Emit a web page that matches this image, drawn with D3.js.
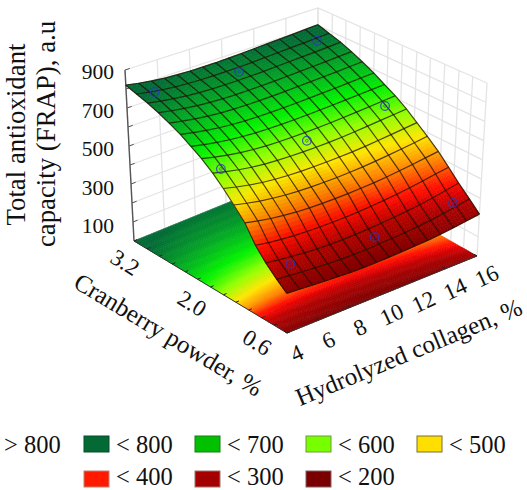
<!DOCTYPE html>
<html>
<head>
<meta charset="utf-8">
<script src="https://cdn.jsdelivr.net/npm/d3@7"></script>
<style>
body { margin: 0; background: #fff; }
text { font-family: "Liberation Serif", serif; fill: #111; }
</style>
</head>
<body>
<div id="chart-area"></div>
<script>
// values
var xTicks = [4, 6, 8, 10, 12, 14, 16];
var yTicks = [3.2, 2.0, 0.6];
var zTicks = [100, 300, 500, 700, 900];
var zLines = [0, 100, 200, 300, 400, 500, 600, 700, 800, 900];
var yLines = [3.2, 2.98, 2.77, 2.55, 2.33, 2.12, 1.9, 1.68, 1.47, 1.25, 1.03, 0.82, 0.6];

var gridX = [4, 4.8, 5.6, 6.4, 7.2, 8, 8.8, 9.6, 10.4, 11.2, 12, 12.8, 13.6, 14.4, 15.2, 16];
var gridY = [3.2, 3.03, 2.85, 2.68, 2.51, 2.33, 2.16, 1.99, 1.81, 1.64, 1.47, 1.29, 1.12, 0.95, 0.77, 0.6];
var surfaceZ = [
    [820, 808, 798, 790, 786, 783, 782, 782, 784, 786, 789, 792, 795, 798, 802, 805],
    [800, 788, 778, 771, 766, 763, 762, 762, 763, 765, 768, 771, 774, 777, 781, 785],
    [780, 769, 759, 751, 746, 743, 742, 742, 743, 745, 748, 751, 754, 757, 761, 765],
    [757, 745, 735, 727, 721, 718, 717, 717, 718, 720, 723, 726, 729, 732, 736, 740],
    [730, 718, 707, 699, 693, 690, 689, 689, 690, 692, 695, 698, 701, 704, 708, 712],
    [700, 687, 676, 667, 661, 657, 656, 656, 657, 659, 662, 665, 668, 672, 676, 680],
    [665, 652, 641, 632, 626, 622, 620, 620, 621, 623, 626, 629, 633, 637, 641, 645],
    [630, 615, 603, 593, 586, 582, 580, 580, 581, 583, 586, 590, 595, 600, 606, 612],
    [585, 570, 557, 547, 540, 536, 534, 533, 534, 536, 539, 544, 550, 557, 563, 570],
    [535, 520, 507, 497, 490, 486, 484, 484, 485, 487, 490, 495, 502, 509, 517, 525],
    [480, 466, 454, 445, 438, 434, 432, 432, 433, 436, 440, 446, 453, 461, 470, 480],
    [420, 407, 396, 388, 382, 379, 378, 378, 380, 383, 387, 393, 401, 410, 420, 430],
    [338, 328, 320, 315, 312, 311, 311, 312, 315, 319, 325, 332, 341, 352, 364, 375],
    [280, 271, 264, 258, 254, 252, 252, 254, 257, 261, 267, 274, 282, 293, 306, 320],
    [230, 224, 219, 214, 210, 208, 207, 208, 211, 214, 219, 225, 232, 242, 255, 268],
    [190, 186, 182, 178, 175, 172, 171, 172, 174, 177, 180, 184, 190, 198, 208, 218]
];

// measured points on the surface
var pointX = [4.9, 9.8, 14.9, 5.1, 10.1, 15.1, 5.6, 10.3, 15.3];
var pointY = [2.97, 2.88, 2.94, 1.97, 1.88, 1.92, 0.97, 0.82, 0.85];
var pointZ = [795, 778, 790, 550, 565, 595, 225, 240, 255];

var legendLabels = ["< 800", "< 700", "< 600", "< 500", "< 400", "< 300", "< 200"];
var legendColors = ["#046a35", "#00c000", "#77ff00", "#ffdf00", "#ff1a00", "#a50000", "#7a0000"];
var legendEdges = ["#0b4a2a", "#1a7a1a", "#6f9a3a", "#7a7030", "#c08070", "#a07070", "#806060"];

var colorStops = [170, 250, 320, 410, 480, 560, 640, 710, 790];
var colorRange = ["#7a0000", "#b00000", "#ff0a00", "#ff8c00", "#ffe600", "#90ff00", "#00f000", "#00b020", "#046a35"];

var width = 527, height = 490;

var svg = d3.select("#chart-area")
    .append("svg")
    .attr("width", width)
    .attr("height", height);

var defs = svg.append("defs");
defs.append("filter").attr("id", "soft")
    .append("feGaussianBlur").attr("stdDeviation", 0.45);

var g = svg.append("g").attr("filter", "url(#soft)");

var u = d3.scaleLinear().domain([4, 16]).range([0, 1]);
var v = d3.scaleLinear().domain([3.2, 0.6]).range([0, 1]);
var w = d3.scaleLinear().domain([0, 900]).range([0, 1]);
var color = d3.scaleLinear().domain(colorStops).range(colorRange).clamp(true);

// box corners on screen, floor then ceiling (far left, far right, near left, near right)
var floorBox = [[134, 241], [318, 166], [287, 333], [477, 256]];
var roofBox = [[125, 70], [318, 8], [286, 145], [487, 83]];

function bilerp(box, a, b, k) {
    var top = box[0][k] + (box[1][k] - box[0][k]) * a;
    var bot = box[2][k] + (box[3][k] - box[2][k]) * a;
    return top + (bot - top) * b;
}

function project(x, y, z) {
    var a = u(x), b = v(y), c = w(z);
    var fx = bilerp(floorBox, a, b, 0), fy = bilerp(floorBox, a, b, 1);
    var tx = bilerp(roofBox, a, b, 0), ty = bilerp(roofBox, a, b, 1);
    return [fx + (tx - fx) * c, fy + (ty - fy) * c];
}

var line = d3.line();

// back walls
var wallColor = "#e4e4e4";
var wall = g.append("g").attr("fill", "none").attr("stroke", wallColor).attr("stroke-width", 1.3);

zLines.forEach(function (z) {
    wall.append("path").attr("d", line([project(4, 3.2, z), project(16, 3.2, z), project(16, 0.6, z)]));
});
xTicks.forEach(function (x) {
    wall.append("path").attr("d", line([project(x, 3.2, 0), project(x, 3.2, 900)]));
});
yLines.forEach(function (y) {
    wall.append("path").attr("d", line([project(16, y, 0), project(16, y, 900)]));
});

// floor map and surface, subdivided so the colours run smoothly
var sub = 5;
function cellZ(i, j, s, t) {
    var z0 = surfaceZ[i][j] + (surfaceZ[i][j + 1] - surfaceZ[i][j]) * s;
    var z1 = surfaceZ[i + 1][j] + (surfaceZ[i + 1][j + 1] - surfaceZ[i + 1][j]) * s;
    return z0 + (z1 - z0) * t;
}

function drawSheet(layer, onFloor) {
    d3.range(gridY.length - 1).forEach(function (i) {
        d3.range(gridX.length - 1).forEach(function (j) {
            d3.range(sub).forEach(function (m) {
                d3.range(sub).forEach(function (n) {
                    var pts = [[n, m], [n + 1, m], [n + 1, m + 1], [n, m + 1]].map(function (p) {
                        var s = p[0] / sub, t = p[1] / sub;
                        var px = gridX[j] + (gridX[j + 1] - gridX[j]) * s;
                        var py = gridY[i] + (gridY[i + 1] - gridY[i]) * t;
                        return project(px, py, onFloor ? 0 : cellZ(i, j, s, t));
                    });
                    var c = color(cellZ(i, j, (n + 0.5) / sub, (m + 0.5) / sub));
                    layer.append("path")
                        .attr("d", line(pts) + "Z")
                        .attr("fill", c)
                        .attr("stroke", c)
                        .attr("stroke-width", 0.6);
                });
            });
        });
    });
}

drawSheet(g.append("g"), true);

// box edges and axis ticks
var edges = g.append("g").attr("fill", "none").attr("stroke", "#555").attr("stroke-width", 1);
edges.append("path").attr("d", line([project(4, 3.2, 900), project(4, 3.2, 0)])).attr("stroke-width", 1.4);
edges.append("path").attr("d", line([project(4, 3.2, 0), project(4, 0.6, 0), project(16, 0.6, 0)])).attr("stroke", "#333");
zLines.forEach(function (z) {
    edges.append("path").attr("d", line([project(4, 3.2, z), project(4.3, 3.2, z)]));
});
yLines.forEach(function (y) {
    edges.append("path").attr("d", line([project(4, y, 0), project(4.2, y, 0)])).attr("stroke", "#222");
});
xTicks.forEach(function (x) {
    edges.append("path").attr("d", line([project(x, 0.6, 0), project(x, 0.65, 0)])).attr("stroke", "#222");
});

drawSheet(g.append("g"), false);

// mesh
var mesh = g.append("g").attr("fill", "none").attr("stroke", "#1c1000").attr("stroke-opacity", 0.75).attr("stroke-width", 1.2);
gridY.forEach(function (y, i) {
    mesh.append("path").attr("d", line(gridX.map(function (x, j) { return project(x, y, surfaceZ[i][j]); })));
});
gridX.forEach(function (x, j) {
    mesh.append("path").attr("d", line(gridY.map(function (y, i) { return project(x, y, surfaceZ[i][j]); })));
});

// measured points
var dots = g.append("g").attr("fill", "none").attr("stroke", "#2a35c0").attr("stroke-opacity", 0.8);
pointX.forEach(function (x, i) {
    var p = project(x, pointY[i], pointZ[i]);
    dots.append("circle").attr("cx", p[0]).attr("cy", p[1]).attr("r", 4.3).attr("stroke-width", 1.3);
    dots.append("circle").attr("cx", p[0]).attr("cy", p[1]).attr("r", 1.4).attr("stroke-width", 0.7);
});

// tick labels
var labels = svg.append("g");
var zLabelY = d3.scaleLinear().domain([100, 900]).range([233, 79]);
zTicks.forEach(function (z) {
    labels.append("text")
        .attr("x", 114)
        .attr("y", zLabelY(z))
        .attr("text-anchor", "end")
        .attr("font-size", 21.5)
        .text(z);
});
xTicks.forEach(function (x) {
    var p = project(x, 0.6, 0);
    labels.append("text")
        .attr("transform", "translate(" + (p[0] + 13) + "," + (p[1] + 27) + ") rotate(-25)")
        .attr("text-anchor", "middle")
        .attr("font-size", 23)
        .text(x);
});
var yLabelX = d3.scaleLinear().domain(yTicks).range([121, 188, 253]);
var yLabelY = d3.scaleLinear().domain(yTicks).range([269, 310, 349]);
yTicks.forEach(function (y) {
    labels.append("text")
        .attr("transform", "translate(" + yLabelX(y) + "," + yLabelY(y) + ") rotate(32)")
        .attr("text-anchor", "middle")
        .attr("font-size", 23)
        .text(d3.format(".1f")(y));
});

// axis titles
labels.append("text")
    .attr("transform", "translate(25,134.5) rotate(-90)")
    .attr("text-anchor", "middle")
    .attr("font-size", 26.8)
    .text("Total antioxidant");
labels.append("text")
    .attr("transform", "translate(55,134) rotate(-90)")
    .attr("text-anchor", "middle")
    .attr("font-size", 26.8)
    .text("capacity (FRAP), a.u");
labels.append("text")
    .attr("transform", "translate(164,342) rotate(31)")
    .attr("text-anchor", "middle")
    .attr("font-size", 25)
    .text("Cranberry powder, %");
labels.append("text")
    .attr("transform", "translate(412,360) rotate(-22.5)")
    .attr("text-anchor", "middle")
    .attr("font-size", 25)
    .text("Hydrolyzed collagen, %");

// legend
var legend = svg.append("g");
var colX = d3.scaleOrdinal().domain([0, 1, 2, 3]).range([84, 195, 306, 417]);
var rowY = d3.scaleOrdinal().domain([0, 1]).range([436, 471]);
var rowText = d3.scaleOrdinal().domain([0, 1]).range([453, 484.5]);

legend.append("text")
    .attr("x", 4)
    .attr("y", rowText(0))
    .attr("font-size", 24.5)
    .text("> 800");

legendLabels.forEach(function (lab, i) {
    var col = i < 4 ? i : i - 4;
    var row = i < 4 ? 0 : 1;
    legend.append("rect")
        .attr("x", colX(col))
        .attr("y", rowY(row))
        .attr("width", 25)
        .attr("height", 16)
        .attr("fill", legendColors[i])
        .attr("stroke", legendEdges[i]);
    legend.append("text")
        .attr("x", colX(col) + 32)
        .attr("y", rowText(row))
        .attr("font-size", 24.5)
        .text(lab);
});
</script>
</body>
</html>
